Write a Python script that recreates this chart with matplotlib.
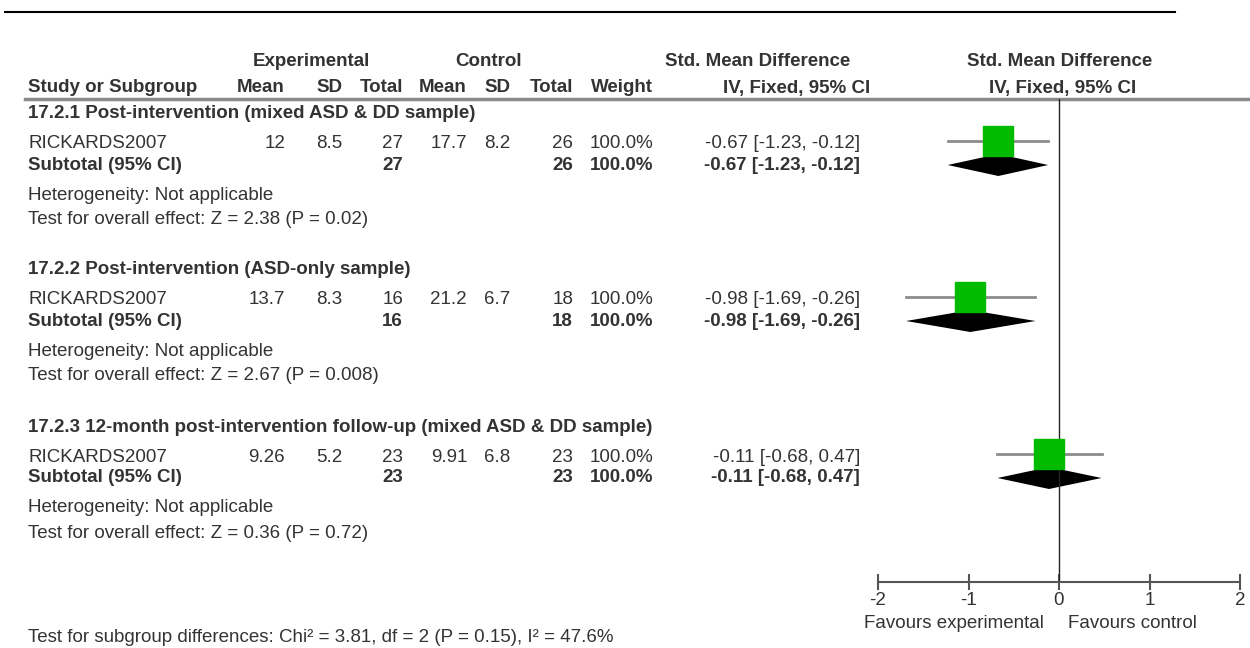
import matplotlib
matplotlib.use('Agg')
import matplotlib.pyplot as plt

plt.rcParams['font.family'] = ['Liberation Sans', 'DejaVu Sans']
plt.rcParams['axes.unicode_minus'] = False

groups = ['17.2.1 Post-intervention (mixed ASD & DD sample)',
          '17.2.2 Post-intervention (ASD-only sample)',
          '17.2.3 12-month post-intervention follow-up (mixed ASD & DD sample)']
study = ['RICKARDS2007', 'RICKARDS2007', 'RICKARDS2007']
exp_mean = [12, 13.7, 9.26]
exp_sd = [8.5, 8.3, 5.2]
exp_n = [27, 16, 23]
ctl_mean = [17.7, 21.2, 9.91]
ctl_sd = [8.2, 6.7, 6.8]
ctl_n = [26, 18, 23]
weight = [100.0, 100.0, 100.0]
smd = [-0.67, -0.98, -0.11]
ci_lo = [-1.23, -1.69, -0.68]
ci_hi = [-0.12, -0.26, 0.47]
z_val = [2.38, 2.67, 0.36]
p_val = ['0.02', '0.008', '0.72']
ticks = [-2, -1, 0, 1, 2]
subgroup_test = 'Test for subgroup differences: Chi² = 3.81, df = 2 (P = 0.15), I² = 47.6%'

W, H = 1250, 648
fig = plt.figure(figsize=(W / 100, H / 100), dpi=100)
ax = fig.add_axes([0, 0, 1, 1])
ax.set_xlim(0, W)
ax.set_ylim(H, 0)
ax.axis('off')

col = '#333333'
fs = 13.5


def txt(x, y, s, ha='left', bold=False):
    ax.text(x, y, s, ha=ha, va='center', fontsize=fs, color=col,
            fontweight='bold' if bold else 'normal')


# rules
ax.plot([5, 1175], [12, 12], color='black', lw=1.5)
ax.plot([25, 1250], [99, 99], color='#8a8a8a', lw=2.5)

# header
txt(311, 62, 'Experimental', 'center', True)
txt(489, 62, 'Control', 'center', True)
txt(758, 62, 'Std. Mean Difference', 'center', True)
txt(1060, 62, 'Std. Mean Difference', 'center', True)
txt(28, 88, 'Study or Subgroup', bold=True)
for x, s in [(285, 'Mean'), (342, 'SD'), (403, 'Total'), (467, 'Mean'),
             (510, 'SD'), (573, 'Total'), (653, 'Weight'), (870, 'IV, Fixed, 95% CI')]:
    txt(x, 88, s, 'right', True)
txt(1063, 88, 'IV, Fixed, 95% CI', 'center', True)

# forest axes
fa = fig.add_axes([878 / W, 1 - 582 / H, 362 / W, (582 - 99) / H])
fa.set_xlim(-2, 2)
fa.set_ylim(582, 99)
fa.patch.set_alpha(0)
for s in ['top', 'left', 'right']:
    fa.spines[s].set_visible(False)
fa.spines['bottom'].set_color('#555555')
fa.spines['bottom'].set_linewidth(1.5)
fa.set_yticks([])
fa.set_xticks(ticks)
fa.set_xticklabels([str(t) for t in ticks])
fa.tick_params(axis='x', direction='inout', length=11, width=1.5, color='#555555',
               labelsize=fs, labelcolor=col, pad=2)
fa.axvline(0, color='#222222', lw=1)
fa.set_clip_on(False)

tops = [114, 270, 427]
for i, y0 in enumerate(tops):
    ys, yt = y0 + 30, y0 + 51
    txt(28, y0, groups[i], bold=True)
    txt(28, ys, study[i])
    txt(285, ys, str(exp_mean[i]), 'right')
    txt(342, ys, str(exp_sd[i]), 'right')
    txt(403, ys, str(exp_n[i]), 'right')
    txt(467, ys, str(ctl_mean[i]), 'right')
    txt(510, ys, str(ctl_sd[i]), 'right')
    txt(573, ys, str(ctl_n[i]), 'right')
    txt(653, ys, f'{weight[i]:.1f}%', 'right')
    eff = f'{smd[i]:.2f} [{ci_lo[i]:.2f}, {ci_hi[i]:.2f}]'
    txt(860, ys, eff, 'right')
    txt(28, yt, 'Subtotal (95% CI)', bold=True)
    txt(403, yt, str(exp_n[i]), 'right', True)
    txt(573, yt, str(ctl_n[i]), 'right', True)
    txt(653, yt, f'{weight[i]:.1f}%', 'right', True)
    txt(860, yt, eff, 'right', True)
    txt(28, y0 + 81, 'Heterogeneity: Not applicable')
    txt(28, y0 + 106, f'Test for overall effect: Z = {z_val[i]:.2f} (P = {p_val[i]})')

    # marks
    yc = ys - 3
    fa.plot([ci_lo[i], ci_hi[i]], [yc, yc], color='#8c8c8c', lw=2, clip_on=False)
    fa.plot([smd[i]], [yc], marker='s', ms=21, color='#00bb00', mec='#00bb00', clip_on=False)
    fa.fill([ci_lo[i], smd[i], ci_hi[i], smd[i]], [yt, yt - 11, yt, yt + 11],
            color='black', lw=0, clip_on=False)

fa.text(-0.17, 623, 'Favours experimental', ha='right', va='center', fontsize=fs, color=col)
fa.text(0.1, 623, 'Favours control', ha='left', va='center', fontsize=fs, color=col)
fa.set_ylim(582, 99)

txt(28, 637, subgroup_test)

fig.savefig('out.png', dpi=100)
